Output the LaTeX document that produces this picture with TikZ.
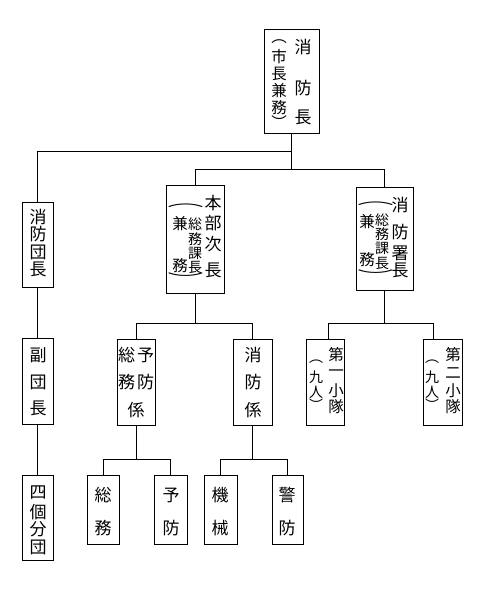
\documentclass[tikz,border=0pt]{standalone}
\usepackage{fontspec}
\usepackage{graphicx}
\newfontfamily\cjk{Noto Sans CJK JP}
\usetikzlibrary{fit,calc}
\begin{document}
\begin{tikzpicture}[x=1pt,y=-1pt,
  box/.style={draw, line width=0.9pt, inner sep=0pt},
  ch/.style={font=\cjk\fontsize{17}{17}\selectfont, inner sep=0pt},
  md/.style={font=\cjk\fontsize{15.5}{15.5}\selectfont, inner sep=0pt},
  sm/.style={font=\cjk\fontsize{14}{14}\selectfont, inner sep=0pt},
  conn/.style={line width=0.9pt}]
\useasboundingbox (0,0) rectangle (480,615);
% boxes
\node[box, fit={(264,29)(319,133)}] (chief) {};
\node[box, fit={(22,202)(53,287)}] (dan) {};
\node[box, fit={(166,185)(224,293)}] (honbu) {};
\node[box, fit={(356,187)(413,290)}] (sho) {};
\node[box, fit={(117,339)(155,425)}] (yobo) {};
\node[box, fit={(233,339)(272,425)}] (shobo) {};
\node[box, fit={(306,339)(344,425)}] (dai1) {};
\node[box, fit={(423,339)(462,425)}] (dai2) {};
\node[box, fit={(22,338)(53,424)}] (fuku) {};
\node[box, fit={(22,475)(53,560)}] (yon) {};
\node[box, fit={(87,475)(119,544)}] (somu) {};
\node[box, fit={(154,475)(187,544)}] (yobo2) {};
\node[box, fit={(204,475)(237,544)}] (kikai) {};
\node[box, fit={(272,475)(303,544)}] (keibo) {};
% connectors
\coordinate (j1) at (0,151);
\coordinate (j2) at (0,169);
\coordinate (j3) at (0,323);
\coordinate (j4) at (0,459);
\draw[conn] (chief.south) -- (chief.south |- j2);
\draw[conn] (chief.south |- j1) -| (dan.north);
\draw[conn] (honbu.north) |- (sho.north |- j2) -- (sho.north);
\draw[conn] (honbu.south) -- (honbu.south |- j3);
\draw[conn] (yobo.north) |- (shobo.north |- j3) -- (shobo.north);
\draw[conn] (sho.south) -- (sho.south |- j3);
\coordinate (d1) at ($(dai1.north)+(3,0)$);
\coordinate (d2) at ($(dai2.north)+(-9.5,0)$);
\draw[conn] (d1) |- (d2 |- j3) -- (d2);
\draw[conn] (dan.south) -- (fuku.north);
\draw[conn] (fuku.south) -- (yon.north);
\draw[conn] (yobo.south) -- (yobo.south |- j4);
\draw[conn] (somu.north) |- (yobo2.north |- j4) -- (yobo2.north);
\draw[conn] (shobo.south) -- (shobo.south |- j4);
\draw[conn] (kikai.north) |- (keibo.north |- j4) -- (keibo.north);
% texts
\foreach \c/\y in {消/47,防/88,長/117} \node[ch] at (303,\y) {\c};
\foreach \c/\y in {︵/42,市/57,長/74,兼/91,務/108,︶/122} \node[md] at (279,\y) {\c};
\foreach \c/\y in {消/217,防/234,団/252,長/269} \node[ch] at (38,\y) {\c};
\foreach \c/\y in {本/203,部/223,次/244,長/270} \node[ch] at (213,\y) {\c};
\foreach \c/\y in {総/224,務/239,課/253,長/267} \node[sm] at (195,\y) {\c};
\foreach \c/\y in {兼/224,務/266} \node[md] at (180,\y) {\c};
\node[sm] at (185.5,206) {\scalebox{2.6}[1]{︵}};
\node[sm] at (185.5,279) {\scalebox{2.6}[1]{︶}};
\foreach \c/\y in {消/205,防/232,署/253,長/270} \node[ch] at (400,\y) {\c};
\foreach \c/\y in {総/220,務/234,課/248,長/263} \node[sm] at (382,\y) {\c};
\foreach \c/\y in {兼/222,務/260} \node[md] at (367,\y) {\c};
\node[sm] at (375.5,204) {\scalebox{2.6}[1]{︵}};
\node[sm] at (375.5,276) {\scalebox{2.6}[1]{︶}};
\foreach \c/\y in {予/355,防/382} \node[ch] at (145.5,\y) {\c};
\foreach \c/\y in {総/355,務/382} \node[ch] at (126.5,\y) {\c};
\node[ch] at (136,410) {係};
\foreach \c/\y in {消/355,防/382,係/410} \node[ch] at (253,\y) {\c};
\foreach \c/\y in {第/355,一/373,小/391,隊/407} \node[md] at (336,\y) {\c};
\foreach \c/\y in {︵/362,九/377,人/392,︶/405} \node[sm] at (316,\y) {\c};
\foreach \c/\y in {第/355,二/373,小/391,隊/407} \node[md] at (453,\y) {\c};
\foreach \c/\y in {︵/362,九/377,人/392,︶/405} \node[sm] at (432,\y) {\c};
\foreach \c/\y in {副/355,団/382,長/408} \node[ch] at (38,\y) {\c};
\foreach \c/\y in {四/493,個/512,分/529,団/547} \node[ch] at (38,\y) {\c};
\foreach \c/\y in {総/495,務/528} \node[ch] at (103,\y) {\c};
\foreach \c/\y in {予/495,防/528} \node[ch] at (171,\y) {\c};
\foreach \c/\y in {機/495,械/528} \node[ch] at (220,\y) {\c};
\foreach \c/\y in {警/495,防/528} \node[ch] at (287,\y) {\c};
\end{tikzpicture}
\end{document}
